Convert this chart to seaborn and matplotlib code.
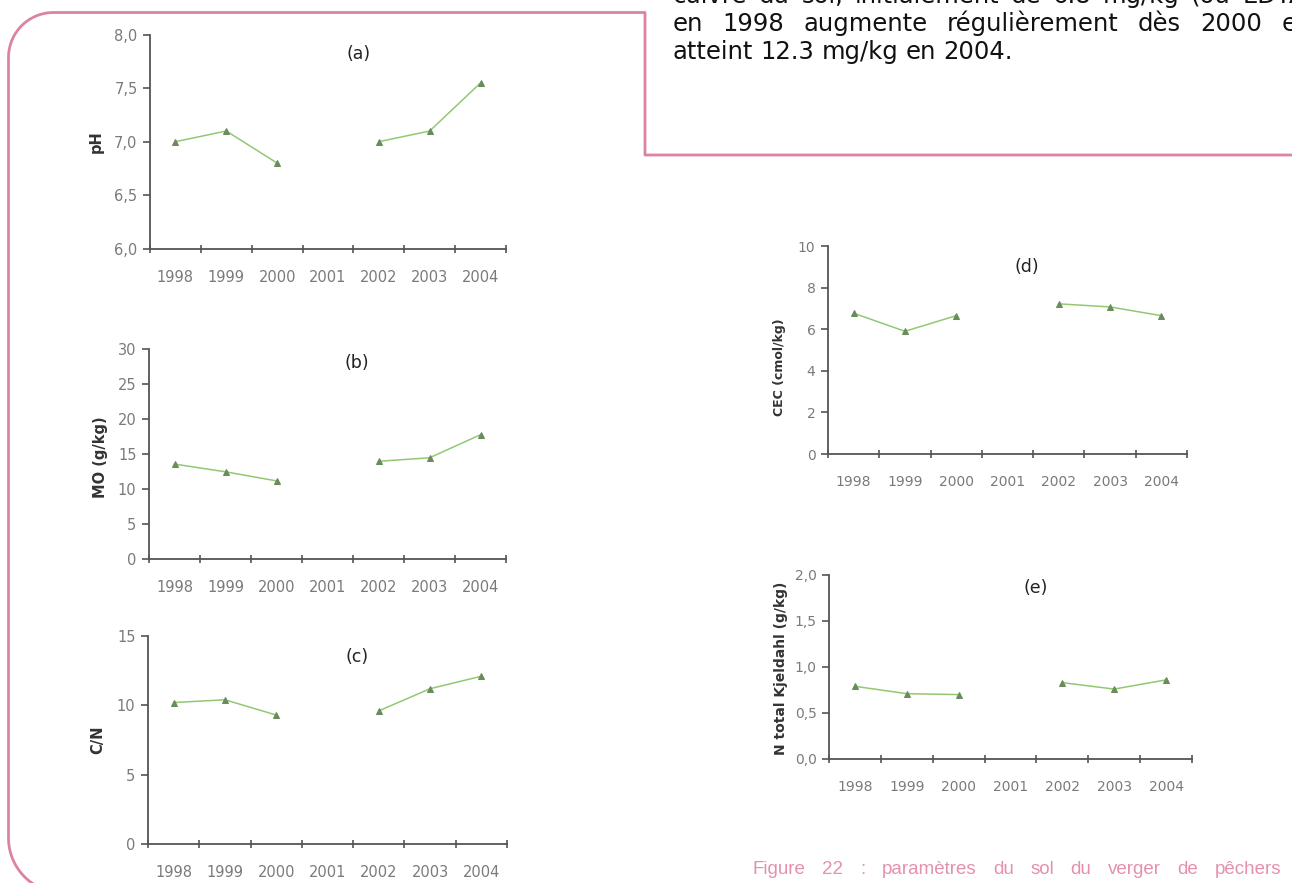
import numpy as np
import pandas as pd
import matplotlib
matplotlib.use("Agg")
import matplotlib.pyplot as plt
import seaborn as sns

years = [1998, 1999, 2000, 2001, 2002, 2003, 2004]
year_labels = ["1998", "1999", "2000", "2001", "2002", "2003", "2004"]
ph = [7.0, 7.1, 6.8, np.nan, 7.0, 7.1, 7.55]
mo = [13.6, 12.5, 11.2, np.nan, 14.0, 14.5, 17.8]
cn = [10.2, 10.4, 9.3, np.nan, 9.6, 11.2, 12.1]
cec = [6.77, 5.9, 6.65, np.nan, 7.22, 7.07, 6.65]
ntk = [0.79, 0.71, 0.70, np.nan, 0.83, 0.76, 0.86]

ph_ticks = [6.0, 6.5, 7.0, 7.5, 8.0]
ph_ticklabels = ["6,0", "6,5", "7,0", "7,5", "8,0"]
mo_ticks = [0, 5, 10, 15, 20, 25, 30]
cn_ticks = [0, 5, 10, 15]
cec_ticks = [0, 2, 4, 6, 8, 10]
ntk_ticks = [0.0, 0.5, 1.0, 1.5, 2.0]
ntk_ticklabels = ["0,0", "0,5", "1,0", "1,5", "2,0"]

para_lines = [
    "cuivre du sol, initialement de 6.8 mg/kg (ou EDTA",
    "en 1998 augmente régulièrement dès 2000 et",
    "atteint 12.3 mg/kg en 2004.",
]
caption = "Figure 22 : paramètres du sol du verger de pêchers"

sns.set_style("ticks")
plt.rcParams["font.family"] = ["DejaVu Sans"]

W, H = 1292, 883
fig = plt.figure(figsize=(W / 100, H / 100), dpi=100)
fig.patch.set_facecolor("white")

LINE = "#93c873"
MK = "#6a8c5c"
SP = "#555555"
TICKC = "#7a7a7a"
PINK = "#dc849f"


def panel(l, t, r, b, vals, ylim, yticks, yticklabels, fs=10.5):
    ax = fig.add_axes([l / W, 1 - b / H, (r - l) / W, (b - t) / H])
    df = pd.DataFrame({"year": years, "val": vals})
    df["seg"] = df["val"].isna().cumsum()
    df = df.dropna()
    sns.lineplot(data=df, x="year", y="val", units="seg", estimator=None, ax=ax,
                 color=LINE, lw=1.1, marker="^", markersize=5,
                 markerfacecolor=MK, markeredgecolor=MK, legend=False)
    ax.set_xlim(1997.5, 2004.5)
    ax.set_ylim(ylim)
    ax.set_xticks(years)
    ax.set_xticklabels(year_labels)
    ax.set_xticks(np.arange(1997.5, 2005, 1), minor=True)
    ax.set_yticks(yticks)
    ax.set_yticklabels(yticklabels if yticklabels else [str(v) for v in yticks])
    ax.tick_params(axis="x", which="major", length=0, pad=15)
    ax.tick_params(axis="x", which="minor", length=6, width=1.2, direction="inout", color=SP)
    ax.tick_params(axis="y", length=5, width=1.2, color=SP, pad=4)
    for lab in ax.get_xticklabels() + ax.get_yticklabels():
        lab.set_fontsize(fs)
        lab.set_color(TICKC)
    for s in ["top", "right"]:
        ax.spines[s].set_visible(False)
    for s in ["left", "bottom"]:
        ax.spines[s].set_color(SP)
        ax.spines[s].set_linewidth(1.3)
    ax.set_xlabel("")
    ax.set_ylabel("")
    ax.set_facecolor("none")
    return ax


panel(150, 34.7, 506, 248.7, ph, (6.0, 8.0), ph_ticks, ph_ticklabels)
panel(149, 349.3, 506, 559.3, mo, (0, 30), mo_ticks, None)
panel(148, 636, 507, 844, cn, (0, 15), cn_ticks, None)
panel(828, 246, 1187, 454, cec, (0, 10), cec_ticks, None, fs=10)
panel(829, 575, 1192, 759, ntk, (0.0, 2.0), ntk_ticks, ntk_ticklabels, fs=10)

# overlay in pixel coordinates for the page decorations and texts
ov = fig.add_axes([0, 0, 1, 1], zorder=-1)
ov.set_xlim(0, W)
ov.set_ylim(H, 0)
ov.axis("off")

# pink frame
t1 = np.linspace(0, np.pi / 2, 40)
bl_x = 63.5 - 55 * np.cos(t1[::-1])
bl_y = 838 + 55 * np.sin(t1[::-1])
tl_x = 53.5 - 45 * np.cos(t1)
tl_y = 57.5 - 45 * np.sin(t1)
fx = np.concatenate([bl_x, tl_x, [645, 645, W + 5]])
fy = np.concatenate([bl_y, tl_y, [12.5, 155, 155]])
ov.plot(fx, fy, color=PINK, lw=2, solid_capstyle="butt")

# y labels
ylabs = [("pH", 96, 142, 10.5),
         ("MO (g/kg)", 100, 457, 10.5),
         ("C/N", 98, 740, 10.5),
         ("CEC (cmol/kg)", 780, 367, 9),
         ("N total Kjeldahl (g/kg)", 781, 668, 10)]
for txt, x, y, fs in ylabs:
    ov.text(x, y, txt, rotation=90, ha="center", va="center", fontsize=fs,
            fontweight="bold", color="#333333")

# panel letters
for txt, x, y in [("(a)", 359, 54), ("(b)", 357, 363), ("(c)", 357, 657),
                  ("(d)", 1027, 267), ("(e)", 1036, 588)]:
    ov.text(x, y, txt, ha="center", va="center", fontsize=12.5, color="#222222")

renderer = fig.canvas.get_renderer()


def justified(line, left, right, yb, justify=True, **kw):
    words = line.split(" ")
    objs = [ov.text(0, yb, w, ha="left", va="baseline", **kw) for w in words]
    widths = [o.get_window_extent(renderer).width for o in objs]
    space = objs[0].get_window_extent(renderer).height * 0.3
    if justify and len(words) > 1:
        gap = (right - left - sum(widths)) / (len(words) - 1)
    else:
        gap = space
    x = left
    for o, w in zip(objs, widths):
        o.set_x(x)
        x += w + gap


# paragraph text, justified as in the page
for i, line in enumerate(para_lines):
    justified(line, 673, 1306, 3 + 28 * i, justify=(i < 2),
              fontsize=17.5, color="#111111")

justified(caption, 753, 1281, 874, fontsize=13.5, color="#e591ae",
          family=["Liberation Sans", "DejaVu Sans"])

fig.savefig("out.png", dpi=100, facecolor="white")
